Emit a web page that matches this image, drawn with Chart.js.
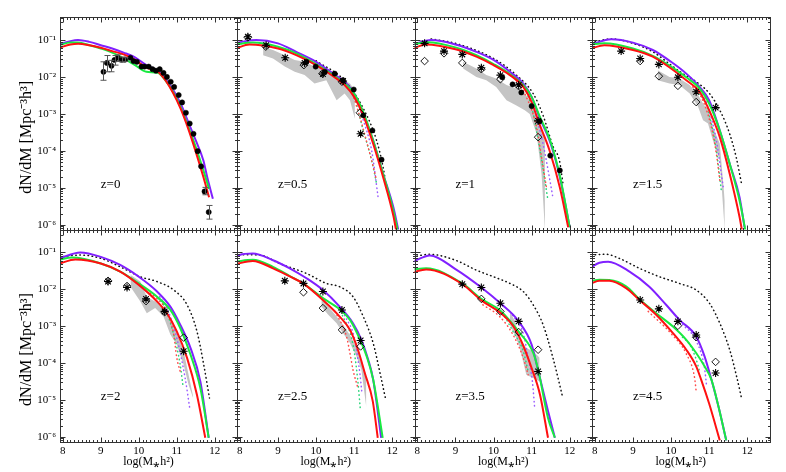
<!DOCTYPE html>
<html>
<head>
<meta charset="utf-8">
<script src="https://cdn.jsdelivr.net/npm/chart.js@4.4.0/dist/chart.umd.min.js"></script>
<style>
html,body{margin:0;padding:0;background:#fff;}
#wrap{position:relative;width:786px;height:472px;overflow:hidden;background:#fff;}
#wrap canvas{position:absolute;left:0;top:0;}
</style>
</head>
<body>
<div id="wrap"></div>
<script>
// ---------- axis ticks and labels ----------
const xTickValues = [8, 9, 10, 11, 12];
const yTickValues = [1e-6, 1e-5, 1e-4, 1e-3, 1e-2, 1e-1];
const yTickLabels = ['10⁻⁶', '10⁻⁵', '10⁻⁴', '10⁻³', '10⁻²', '10⁻¹'];
const panelLabels = ['z=0', 'z=0.5', 'z=1', 'z=1.5', 'z=2', 'z=2.5', 'z=3.5', 'z=4.5'];
const xTitle = 'log(M⁎h²)';
const yTitle = 'dN/dM [Mpc⁻³h³]';

// ---------- data: pairs [log(M*h^2), log10(dN/dM)] ----------
// z = 0
const z0_purple = [[7.9,-1.12],[8.2,-1.03],[8.4,-1.00],[8.7,-1.05],[9.0,-1.14],[9.3,-1.23],[9.6,-1.34],[9.9,-1.47],[10.2,-1.68],[10.5,-1.84],[10.7,-2.04],[10.9,-2.34],[11.1,-2.72],[11.3,-3.22],[11.5,-3.72],[11.7,-4.26],[11.8,-4.71],[11.95,-5.30]];
const z0_red = [[7.9,-1.21],[8.2,-1.12],[8.4,-1.10],[8.7,-1.14],[9.0,-1.21],[9.3,-1.30],[9.6,-1.39],[9.9,-1.54],[10.2,-1.75],[10.5,-1.86],[10.7,-2.09],[10.9,-2.43],[11.1,-2.86],[11.3,-3.40],[11.5,-4.03],[11.7,-4.71],[11.85,-5.26]];
const z0_green = [[7.9,-1.14],[8.2,-1.07],[8.4,-1.07],[8.7,-1.14],[9.0,-1.23],[9.3,-1.34],[9.6,-1.50],[9.9,-1.68],[10.2,-1.86],[10.5,-1.89],[10.7,-2.09],[10.9,-2.40],[11.1,-2.81],[11.3,-3.34],[11.5,-3.90],[11.7,-4.53],[11.85,-5.03]];
const z0_obs = [[9.07,-1.86],[9.16,-1.62],[9.28,-1.70],[9.36,-1.54],[9.45,-1.48],[9.55,-1.53],[9.64,-1.53],[9.78,-1.48],[9.86,-1.57],[9.95,-1.59],[10.07,-1.72],[10.15,-1.72],[10.26,-1.72],[10.36,-1.79],[10.45,-1.83],[10.55,-1.79],[10.65,-1.89],[10.74,-2.00],[10.84,-2.13],[10.93,-2.27],[11.05,-2.49],[11.14,-2.69],[11.24,-2.97],[11.34,-3.26],[11.44,-3.54],[11.55,-4.01],[11.64,-4.42],[11.73,-5.10],[11.84,-5.66]];
const z0_err = [[9.07,-2.09,-1.59],[9.16,-1.86,-1.42],[9.28,-1.86,-1.55],[9.36,-1.68,-1.42],[9.45,-1.58,-1.40],[9.55,-1.60,-1.46],[9.64,-1.58,-1.48],[11.73,-5.19,-4.99],[11.84,-5.85,-5.48]];

// z = 0.5
const z05_purple = [[7.89,-1.09],[8.15,-1.03],[8.43,-1.00],[9.0,-1.09],[9.48,-1.32],[10.0,-1.59],[10.45,-1.91],[10.75,-2.13],[11.0,-2.45],[11.24,-2.99],[11.5,-3.72],[11.76,-4.62],[12.03,-5.53],[12.16,-6.14]];
const z05_red = [[7.89,-1.23],[8.25,-1.12],[9.0,-1.23],[9.48,-1.41],[10.0,-1.68],[10.45,-1.98],[10.75,-2.22],[11.0,-2.54],[11.24,-3.04],[11.5,-3.81],[11.76,-4.71],[12.03,-5.76],[12.1,-6.14]];
const z05_green = [[7.89,-1.12],[8.34,-1.07],[9.0,-1.18],[9.48,-1.36],[10.0,-1.65],[10.45,-1.95],[10.75,-2.18],[11.0,-2.45],[11.24,-2.95],[11.5,-3.72],[11.76,-4.62],[12.03,-5.62],[12.14,-6.14]];
const z05_dotBlack = [[10.0,-1.56],[10.75,-2.10],[11.24,-2.85],[11.59,-3.72],[11.76,-4.44],[11.85,-4.99]];
const z05_dotRed = [[10.7,-2.12],[10.89,-2.30],[11.15,-3.08],[11.32,-3.72],[11.46,-4.26],[11.59,-4.80]];
const z05_dotGreen = [[10.8,-2.2],[10.96,-2.40],[11.24,-3.45],[11.46,-4.26],[11.59,-4.89]];
const z05_dotPurple = [[10.85,-2.25],[11.02,-2.50],[11.24,-3.17],[11.46,-3.99],[11.63,-5.26]];
const z05_bandX = [8.61,8.87,9.18,9.44,9.70,9.96,10.27,10.54,10.75,10.89,11.02];
const z05_bandUp = [-1.18,-1.27,-1.41,-1.54,-1.59,-1.72,-1.81,-1.99,-2.09,-2.18,-2.36];
const z05_bandLo = [-1.41,-1.50,-1.72,-1.86,-1.95,-2.18,-2.09,-2.63,-2.45,-2.63,-3.13];
const z05_obs = [[9.75,-1.59],[9.99,-1.72],[10.23,-1.86],[10.49,-1.91],[10.71,-2.09],[10.99,-2.34],[11.24,-3.04],[11.48,-3.45],[11.72,-4.24]];
const z05_diam = [[8.21,-0.93],[8.68,-1.18],[9.68,-1.68],[10.17,-1.91],[10.68,-2.13],[11.15,-2.97]];
const z05_star = [[8.21,-0.91],[8.69,-1.14],[9.19,-1.48],[9.70,-1.62],[10.18,-1.92],[10.71,-2.11],[11.17,-3.54]];

// z = 1
const z1_purple = [[7.88,-1.12],[8.36,-1.00],[9.0,-1.12],[9.55,-1.32],[10.0,-1.54],[10.43,-1.86],[10.78,-2.18],[11.0,-2.54],[11.2,-3.08],[11.5,-3.81],[11.74,-4.71],[12.0,-6.07]];
const z1_red = [[7.88,-1.23],[8.23,-1.12],[9.0,-1.25],[9.55,-1.45],[10.0,-1.68],[10.43,-1.95],[10.78,-2.27],[11.0,-2.68],[11.2,-3.26],[11.47,-3.99],[11.74,-4.99],[11.96,-6.07]];
const z1_green = [[7.88,-1.12],[8.27,-1.06],[9.0,-1.20],[9.55,-1.41],[10.0,-1.65],[10.43,-1.92],[10.78,-2.22],[11.0,-2.54],[11.2,-3.04],[11.5,-3.76],[11.74,-4.67],[12.0,-6.07]];
const z1_dotBlack = [[8.36,-0.97],[9.0,-1.09],[10.0,-1.50],[10.6,-1.95],[11.04,-2.45],[11.30,-3.04],[11.57,-3.90],[11.73,-4.26],[11.83,-4.94]];
const z1_dotRed = [[10.6,-2.1],[10.86,-2.54],[11.13,-3.36],[11.26,-4.17],[11.39,-4.99]];
const z1_dotGreen = [[10.78,-2.22],[11.0,-2.81],[11.22,-3.99],[11.39,-5.08],[11.43,-5.35]];
const z1_dotPurple = [[10.8,-2.2],[11.04,-2.81],[11.30,-3.81],[11.48,-4.80],[11.55,-5.21]];
const z1_bandX = [9.20,9.55,9.81,10.07,10.34,10.60,10.82,10.95,11.13,11.26,11.35];
const z1_bandUp = [-1.59,-1.77,-1.95,-2.04,-2.22,-2.31,-2.45,-2.63,-3.04,-3.36,-3.72];
const z1_bandLo = [-1.77,-2.00,-2.09,-2.27,-2.63,-2.77,-2.90,-3.00,-3.54,-4.62,-6.16];
const z1_obs = [[10.23,-2.01],[10.50,-2.20],[10.73,-2.42],[11.0,-2.79],[11.21,-3.20],[11.49,-4.13],[11.74,-4.53]];
const z1_diam = [[8.19,-1.57],[8.70,-1.36],[9.18,-1.62],[9.68,-1.79],[10.18,-2.06],[10.66,-2.25],[11.17,-3.63]];
const z1_star = [[8.19,-1.09],[8.70,-1.30],[9.18,-1.39],[9.68,-1.75],[10.18,-1.95],[10.66,-2.22],[11.17,-3.19]];

// z = 1.5
const z15_purple = [[7.9,-1.12],[8.43,-0.98],[9.0,-1.07],[9.52,-1.27],[10.0,-1.59],[10.4,-1.91],[10.75,-2.27],[11.0,-2.63],[11.28,-3.45],[11.54,-4.35],[11.8,-5.26],[11.93,-6.07]];
const z15_red = [[7.9,-1.23],[8.25,-1.14],[9.0,-1.27],[9.52,-1.45],[10.0,-1.77],[10.4,-2.09],[10.75,-2.40],[11.0,-2.90],[11.28,-3.63],[11.54,-4.62],[11.8,-5.80],[11.86,-6.14]];
const z15_green = [[7.9,-1.12],[8.25,-1.09],[9.0,-1.23],[9.52,-1.43],[10.0,-1.72],[10.4,-2.01],[10.75,-2.31],[11.0,-2.72],[11.28,-3.45],[11.54,-4.35],[11.8,-5.35],[11.95,-6.14]];
const z15_dotBlack = [[7.9,-1.07],[8.43,-0.97],[9.0,-1.09],[9.52,-1.32],[10.0,-1.68],[10.31,-1.91],[10.66,-2.13],[11.01,-2.45],[11.28,-2.90],[11.54,-3.54],[11.71,-4.17],[11.86,-4.94]];
const z15_dotRed = [[10.57,-2.27],[10.79,-2.54],[11.06,-3.36],[11.19,-4.08],[11.28,-4.80]];
const z15_dotGreen = [[10.70,-2.36],[10.97,-2.90],[11.19,-3.99],[11.32,-5.08]];
const z15_dotPurple = [[10.75,-2.27],[10.97,-2.81],[11.19,-3.72],[11.32,-4.62],[11.37,-4.99]];
const z15_bandX = [9.65,9.96,10.22,10.49,10.71,10.84,10.97,11.10,11.28,11.41];
const z15_bandUp = [-1.82,-2.00,-2.04,-2.22,-2.49,-2.72,-2.90,-3.36,-3.81,-5.35];
const z15_bandLo = [-2.09,-2.18,-2.22,-2.45,-2.81,-3.17,-3.26,-3.72,-4.26,-6.16];
const z15_diam = [[9.19,-1.57],[9.68,-1.98],[10.18,-2.24],[10.66,-2.68]];
const z15_star = [[8.69,-1.30],[9.19,-1.50],[9.68,-1.66],[10.18,-2.01],[10.66,-2.40],[11.17,-2.83]];

// z = 2
const z2_purple = [[7.91,-1.16],[8.46,-1.00],[9.0,-1.12],[9.51,-1.34],[10.0,-1.66],[10.48,-2.06],[10.83,-2.47],[11.09,-2.96],[11.36,-3.59],[11.62,-4.50],[11.84,-6.03]];
const z2_red = [[7.91,-1.30],[8.33,-1.19],[9.0,-1.30],[9.51,-1.52],[10.0,-1.88],[10.48,-2.33],[10.74,-2.65],[11.0,-3.14],[11.27,-3.86],[11.53,-4.86],[11.75,-6.03]];
const z2_green = [[7.91,-1.19],[8.24,-1.14],[9.0,-1.30],[9.51,-1.52],[10.0,-1.84],[10.48,-2.20],[10.83,-2.56],[11.09,-3.05],[11.36,-3.77],[11.62,-4.68],[11.84,-6.03]];
const z2_dotBlack = [[7.91,-1.12],[8.46,-1.07],[9.0,-1.16],[9.51,-1.39],[10.04,-1.66],[10.48,-1.79],[10.92,-2.02],[11.27,-2.42],[11.53,-3.14],[11.71,-4.05],[11.86,-4.95]];
const z2_dotRed = [[10.3,-2.1],[10.48,-2.25],[10.74,-2.60],[10.92,-3.23],[11.0,-3.86],[11.09,-4.23]];
const z2_dotGreen = [[10.5,-2.25],[10.65,-2.42],[10.92,-3.23],[11.09,-4.05],[11.16,-4.59]];
const z2_dotPurple = [[10.55,-2.2],[10.74,-2.51],[11.0,-3.32],[11.22,-4.41],[11.34,-5.22]];
const z2_bandX = [9.78,10.04,10.21,10.43,10.65,10.83,11.0,11.18,11.31,11.43];
const z2_bandUp = [-1.61,-1.79,-2.20,-2.33,-2.47,-2.78,-3.14,-3.68,-4.32,-4.90];
const z2_bandLo = [-1.93,-2.33,-2.65,-2.51,-2.74,-3.23,-3.50,-4.05,-4.59,-4.95];
const z2_diam = [[9.19,-1.77],[9.69,-1.91],[10.19,-2.32],[10.68,-2.62],[11.18,-3.31]];
const z2_star = [[9.19,-1.79],[9.69,-1.95],[10.19,-2.26],[10.68,-2.60],[11.18,-3.68]];

// z = 2.5
const z25_purple = [[7.88,-1.16],[7.99,-1.07],[8.34,-1.03],[8.87,-1.21],[9.31,-1.43],[9.75,-1.70],[10.18,-2.02],[10.62,-2.47],[10.97,-2.92],[11.19,-3.37],[11.37,-3.91],[11.5,-4.45],[11.71,-6.03]];
const z25_red = [[7.88,-1.32],[8.34,-1.23],[8.87,-1.43],[9.31,-1.65],[9.66,-1.84],[10.18,-2.29],[10.62,-2.74],[10.89,-3.10],[11.1,-3.64],[11.28,-4.27],[11.49,-5.04],[11.62,-6.03]];
const z25_green = [[7.88,-1.25],[8.34,-1.20],[8.87,-1.39],[9.31,-1.64],[9.66,-1.84],[10.18,-2.24],[10.62,-2.54],[10.89,-2.83],[11.1,-3.24],[11.33,-3.82],[11.5,-4.45],[11.75,-6.03]];
const z25_dotBlack = [[7.88,-1.10],[7.99,-1.06],[8.52,-1.07],[9.04,-1.30],[9.75,-1.57],[10.27,-1.84],[10.62,-1.93],[10.97,-2.20],[11.24,-2.74],[11.5,-3.46],[11.68,-4.27],[11.82,-4.95]];
const z25_dotRed = [[10.5,-2.6],[10.8,-3.28],[10.89,-3.73],[10.97,-4.18],[11.1,-4.68]];
const z25_dotGreen = [[10.65,-2.6],[10.97,-3.5],[11.09,-4.41],[11.16,-5.22]];
const z25_dotPurple = [[10.75,-2.7],[11.02,-3.37],[11.1,-3.91],[11.15,-4.27],[11.2,-4.77]];
const z25_bandX = [10.14,10.32,10.54,10.71,10.89,11.06,11.19,11.32];
const z25_bandUp = [-2.20,-2.47,-2.74,-2.96,-3.24,-3.55,-3.91,-4.36];
const z25_bandLo = [-2.47,-2.69,-2.92,-3.19,-3.46,-3.82,-4.18,-5.20];
const z25_diam = [[9.67,-2.08],[10.18,-2.51],[10.68,-3.10],[11.17,-3.55]];
const z25_star = [[9.18,-1.77],[9.67,-1.84],[10.18,-2.06],[10.68,-2.56],[11.17,-3.39]];

// z = 3.5
const z35_purple = [[7.88,-1.25],[8.33,-1.08],[9.0,-1.45],[9.68,-1.95],[10.18,-2.38],[10.66,-2.87],[11.0,-3.50],[11.17,-4.20],[11.43,-5.30],[11.61,-6.03]];
const z35_red = [[7.88,-1.54],[8.23,-1.46],[9.18,-1.86],[9.68,-2.30],[10.18,-2.64],[10.51,-2.99],[10.73,-3.41],[11.0,-4.14],[11.22,-4.86],[11.43,-6.03]];
const z35_green = [[7.88,-1.46],[8.23,-1.43],[9.18,-1.84],[9.68,-2.26],[10.18,-2.58],[10.66,-3.15],[11.04,-3.72],[11.17,-4.18],[11.43,-5.49],[11.61,-6.03]];
const z35_dotBlack = [[7.88,-1.12],[8.32,-1.05],[9.0,-1.21],[9.55,-1.48],[10.0,-1.66],[10.43,-1.84],[10.78,-2.06],[11.04,-2.42],[11.30,-2.96],[11.56,-3.86],[11.82,-4.95]];
const z35_dotRed = [[9.72,-2.42],[10.16,-2.74],[10.51,-3.23],[10.78,-3.86],[10.91,-4.32]];
const z35_dotGreen = [[10.3,-2.75],[10.51,-3.14],[10.78,-3.68],[10.91,-4.23]];
const z35_dotPurple = [[10.5,-2.7],[10.78,-3.2],[10.91,-3.86],[11.02,-4.50],[11.08,-5.22]];
const z35_bandX = [10.43,10.56,10.69,10.86,11.04,11.21];
const z35_bandUp = [-2.60,-2.87,-3.32,-3.59,-3.68,-3.86];
const z35_bandLo = [-2.96,-3.23,-3.59,-4.32,-4.41,-4.50];
const z35_diam = [[9.68,-2.26],[10.18,-2.60],[10.66,-3.16],[11.17,-3.64]];
const z35_star = [[9.18,-1.86],[9.68,-1.95],[10.18,-2.38],[10.66,-2.87],[11.17,-4.23]];

// z = 4.5
const z45_purple = [[7.9,-1.40],[8.12,-1.28],[8.35,-1.25],[8.91,-1.52],[9.43,-1.93],[9.87,-2.42],[10.22,-2.83],[10.66,-3.28],[10.88,-3.82],[11.06,-4.45],[11.25,-5.20],[11.45,-6.10]];
const z45_red = [[7.9,-1.84],[8.12,-1.77],[8.38,-1.77],[8.82,-1.97],[9.17,-2.29],[9.61,-2.69],[10.05,-3.19],[10.40,-3.64],[10.66,-4.09],[10.79,-4.45],[11.0,-5.10],[11.28,-6.10]];
const z45_green = [[7.9,-1.77],[8.12,-1.74],[8.38,-1.75],[8.82,-1.92],[9.17,-2.27],[9.61,-2.65],[10.05,-3.01],[10.40,-3.37],[10.66,-3.73],[10.88,-4.09],[11.06,-4.45],[11.25,-5.20],[11.45,-6.10]];
const z45_dotBlack = [[7.9,-1.07],[8.3,-1.05],[8.64,-1.16],[9.17,-1.43],[9.70,-1.66],[10.22,-1.84],[10.66,-2.02],[11.01,-2.38],[11.28,-2.92],[11.54,-3.64],[11.72,-4.36],[11.85,-4.95]];
const z45_dotRed = [[9.4,-2.6],[10.0,-3.2],[10.4,-3.75],[10.62,-4.41],[10.66,-4.77]];
const z45_dotGreen = [[10.3,-3.3],[10.49,-3.5],[10.66,-3.9],[10.75,-4.23]];
const z45_dotPurple = [[10.3,-2.95],[10.66,-3.40],[10.88,-4.14],[10.93,-4.59]];
const z45_diam = [[10.18,-2.99],[10.66,-3.30],[11.17,-3.97]];
const z45_star = [[9.19,-2.29],[9.68,-2.53],[10.18,-2.87],[10.66,-3.24],[11.17,-4.27]];

// ---------- layout ----------
const W = 786, H = 472;
const colEdges = [60, 237, 414.5, 592, 769.5];
const rowEdges = [17, 229.5, 441.5];
const xMin = 7.925, xMax = 12.585;
const yMin = 7.4e-7, yMax = 0.42;
const YW = 50, XH = 31;
const FONT = "'Liberation Serif', 'Times New Roman', serif";

const C_PURPLE = '#8020ff', C_RED = '#ff1010', C_GREEN = '#18ea40';
const C_DPURPLE = '#9a5cff', C_DRED = '#ff4a4a', C_DGREEN = '#2ad47a', C_BAND = '#c4c4c4';

function pts(arr) { return arr.map(p => ({x: p[0], y: Math.pow(10, p[1])})); }
function solid(arr, color, order) {
  return {data: pts(arr), showLine: true, borderColor: color, borderWidth: 2, pointRadius: 0,
          fill: false, cubicInterpolationMode: 'monotone', order};
}
function dotted(arr, color, order) {
  return {data: pts(arr), showLine: true, borderColor: color, borderWidth: 1.5, borderDash: [0.5, 3.6],
          borderCapStyle: 'round', pointRadius: 0, fill: false, cubicInterpolationMode: 'monotone', order};
}
function band(xs, up, lo) {
  return [
    {data: xs.map((x, i) => ({x, y: Math.pow(10, up[i])})), showLine: true, borderWidth: 0,
     borderColor: 'rgba(0,0,0,0)', pointRadius: 0, fill: '+1', backgroundColor: C_BAND, order: 30},
    {data: xs.map((x, i) => ({x, y: Math.pow(10, lo[i])})), showLine: true, borderWidth: 0,
     borderColor: 'rgba(0,0,0,0)', pointRadius: 0, fill: false, order: 31}
  ];
}
function marks(arr, style) {
  const base = {data: pts(arr), showLine: false, order: 0, borderColor: '#000'};
  if (style === 'circle') return Object.assign(base, {pointStyle: 'circle', pointRadius: 2.6, backgroundColor: '#000', pointBorderWidth: 0.5});
  if (style === 'diamond') return Object.assign(base, {pointStyle: 'rectRot', pointRadius: 3.8, backgroundColor: 'rgba(255,255,255,0)', pointBorderWidth: 0.9});
  return Object.assign(base, {pointStyle: 'star', pointRadius: 4, backgroundColor: '#000', pointBorderWidth: 1.1});
}

const panels = [
  {purple: z0_purple, red: z0_red, green: z0_green, obs: z0_obs, err: z0_err},
  {purple: z05_purple, red: z05_red, green: z05_green, dotBlack: z05_dotBlack, dotRed: z05_dotRed, dotGreen: z05_dotGreen, dotPurple: z05_dotPurple, bandX: z05_bandX, bandUp: z05_bandUp, bandLo: z05_bandLo, obs: z05_obs, diam: z05_diam, star: z05_star},
  {purple: z1_purple, red: z1_red, green: z1_green, dotBlack: z1_dotBlack, dotRed: z1_dotRed, dotGreen: z1_dotGreen, dotPurple: z1_dotPurple, bandX: z1_bandX, bandUp: z1_bandUp, bandLo: z1_bandLo, obs: z1_obs, diam: z1_diam, star: z1_star},
  {purple: z15_purple, red: z15_red, green: z15_green, dotBlack: z15_dotBlack, dotRed: z15_dotRed, dotGreen: z15_dotGreen, dotPurple: z15_dotPurple, bandX: z15_bandX, bandUp: z15_bandUp, bandLo: z15_bandLo, diam: z15_diam, star: z15_star},
  {purple: z2_purple, red: z2_red, green: z2_green, dotBlack: z2_dotBlack, dotRed: z2_dotRed, dotGreen: z2_dotGreen, dotPurple: z2_dotPurple, bandX: z2_bandX, bandUp: z2_bandUp, bandLo: z2_bandLo, diam: z2_diam, star: z2_star},
  {purple: z25_purple, red: z25_red, green: z25_green, dotBlack: z25_dotBlack, dotRed: z25_dotRed, dotGreen: z25_dotGreen, dotPurple: z25_dotPurple, bandX: z25_bandX, bandUp: z25_bandUp, bandLo: z25_bandLo, diam: z25_diam, star: z25_star},
  {purple: z35_purple, red: z35_red, green: z35_green, dotBlack: z35_dotBlack, dotRed: z35_dotRed, dotGreen: z35_dotGreen, dotPurple: z35_dotPurple, bandX: z35_bandX, bandUp: z35_bandUp, bandLo: z35_bandLo, diam: z35_diam, star: z35_star},
  {purple: z45_purple, red: z45_red, green: z45_green, dotBlack: z45_dotBlack, dotRed: z45_dotRed, dotGreen: z45_dotGreen, dotPurple: z45_dotPurple, diam: z45_diam, star: z45_star}
];

// ---------- frame / ticks / labels plugin ----------
const framePlugin = {
  id: 'frame',
  afterDraw(chart, args, opts) {
    const {ctx, chartArea: a, scales: {x, y}} = chart;
    ctx.save();
    // error bars
    if (opts.err) {
      ctx.strokeStyle = '#555'; ctx.lineWidth = 1;
      ctx.beginPath();
      opts.err.forEach(([xv, lo, hi]) => {
        const px = Math.round(x.getPixelForValue(xv)) + 0.5;
        const p1 = y.getPixelForValue(Math.pow(10, lo)), p2 = y.getPixelForValue(Math.pow(10, hi));
        ctx.moveTo(px, p1); ctx.lineTo(px, p2);
        ctx.moveTo(px - 3, p1); ctx.lineTo(px + 3, p1);
        ctx.moveTo(px - 3, p2); ctx.lineTo(px + 3, p2);
      });
      ctx.stroke();
    }
    // box
    const L = Math.round(a.left) + 0.5, R = Math.round(a.right) + 0.5;
    const T = Math.round(a.top) + 0.5, B = Math.round(a.bottom) + 0.5;
    ctx.strokeStyle = '#333'; ctx.lineWidth = 1;
    ctx.strokeRect(L, T, R - L, B - T);
    ctx.beginPath();
    for (let i = Math.ceil(xMin * 10); i <= Math.floor(xMax * 10); i++) {
      const px = Math.round(x.getPixelForValue(i / 10)) + 0.5;
      const len = (i % 10 === 0) ? 5 : 2.5;
      ctx.moveTo(px, B); ctx.lineTo(px, B - len);
      ctx.moveTo(px, T); ctx.lineTo(px, T + len);
    }
    for (let e = -7; e <= 0; e++) {
      for (let m = 1; m <= 9; m++) {
        const v = m * Math.pow(10, e);
        if (v < yMin || v > yMax) continue;
        const py = Math.round(y.getPixelForValue(v)) + 0.5;
        const len = (m === 1) ? 5 : 2.5;
        ctx.moveTo(L, py); ctx.lineTo(L + len, py);
        ctx.moveTo(R, py); ctx.lineTo(R - len, py);
      }
    }
    ctx.stroke();
    // panel label
    ctx.fillStyle = '#000';
    ctx.font = '13px ' + FONT;
    ctx.textAlign = 'left'; ctx.textBaseline = 'middle';
    ctx.fillText(opts.label, x.getPixelForValue(9.0), y.getPixelForValue(Math.pow(10, -4.92)));
    // y title (left column only)
    if (opts.yTitle) {
      ctx.save();
      ctx.translate(27, (a.top + a.bottom) / 2 + 14);
      ctx.rotate(-Math.PI / 2);
      ctx.font = '16px ' + FONT;
      ctx.textAlign = 'center'; ctx.textBaseline = 'middle';
      ctx.fillText(opts.yTitle, 0, 0);
      ctx.restore();
    }
    ctx.restore();
  }
};

const wrap = document.getElementById('wrap');
panels.forEach((p, idx) => {
  const col = idx % 4, row = Math.floor(idx / 4);
  const Lx = colEdges[col], Rx = colEdges[col + 1];
  const Ty = rowEdges[row], By = rowEdges[row + 1];
  const showY = col === 0, showX = row === 1;

  const ds = [];
  ds.push(solid(p.red, C_RED, 3));
  ds.push(solid(p.green, C_GREEN, 4));
  ds.push(solid(p.purple, C_PURPLE, 5));
  if (p.dotBlack) ds.push(dotted(p.dotBlack, '#111', 10));
  if (p.dotRed) ds.push(dotted(p.dotRed, C_DRED, 11));
  if (p.dotGreen) ds.push(dotted(p.dotGreen, C_DGREEN, 11));
  if (p.dotPurple) ds.push(dotted(p.dotPurple, C_DPURPLE, 11));
  if (p.obs) ds.push(marks(p.obs, 'circle'));
  if (p.diam) ds.push(marks(p.diam, 'diamond'));
  if (p.star) ds.push(marks(p.star, 'star'));
  if (p.bandX) ds.push(...band(p.bandX, p.bandUp, p.bandLo));

  const cv = document.createElement('canvas');
  cv.width = W; cv.height = H;
  cv.style.width = W + 'px'; cv.style.height = H + 'px';
  wrap.appendChild(cv);

  new Chart(cv, {
    type: 'scatter',
    data: {datasets: ds},
    options: {
      responsive: false, animation: false, devicePixelRatio: 1, events: [],
      layout: {padding: {left: Lx - YW, right: W - Rx, top: Ty, bottom: H - By - XH}},
      plugins: {
        legend: {display: false}, tooltip: {enabled: false},
        frame: {label: panelLabels[idx], yTitle: showY ? yTitle : null, err: p.err || null}
      },
      scales: {
        x: {
          type: 'linear', min: xMin, max: xMax,
          grid: {display: false, drawTicks: false}, border: {display: false},
          ticks: {display: showX, color: '#000', font: {family: FONT, size: 11}, padding: 3,
                  maxRotation: 0, autoSkip: false, callback: v => String(v)},
          afterBuildTicks: s => { s.ticks = xTickValues.map(v => ({value: v})); },
          afterFit: s => { s.height = XH; },
          title: {display: showX, text: xTitle, color: '#000', font: {family: FONT, size: 12}, padding: {top: 0, bottom: 3}}
        },
        y: {
          type: 'logarithmic', min: yMin, max: yMax,
          grid: {display: false, drawTicks: false}, border: {display: false},
          ticks: {display: showY, color: '#000', font: {family: FONT, size: 11}, padding: 4, autoSkip: false,
                  callback: (v, i) => yTickLabels[i]},
          afterBuildTicks: s => { s.ticks = yTickValues.map(v => ({value: v, major: true})); },
          afterFit: s => { s.width = YW; }
        }
      }
    },
    plugins: [framePlugin]
  });
});
</script>
</body>
</html>
